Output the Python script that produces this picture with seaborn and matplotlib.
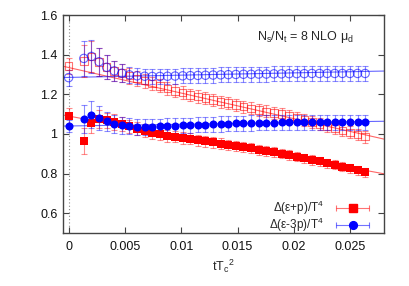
import numpy as np
import pandas as pd
import matplotlib
matplotlib.use("Agg")
import matplotlib.pyplot as plt
import seaborn as sns

# ---------------- data ----------------
t_step = 0.000675
k_idx = [0] + list(range(2, 40))
t_vals = [k * t_step for k in k_idx]

ep_filled = [1.092, 0.966, 1.055, 1.074, 1.068, 1.060, 1.050, 1.038, 1.026, 1.016,
             1.007, 0.998, 0.991, 0.986, 0.980, 0.975, 0.969, 0.963, 0.957, 0.951,
             0.945, 0.939, 0.933, 0.927, 0.921, 0.915, 0.908, 0.900, 0.893, 0.885,
             0.877, 0.869, 0.861, 0.852, 0.844, 0.835, 0.826, 0.817, 0.807]
ep_filled_err = [0.040, 0.065, 0.050, 0.045, 0.040, 0.038, 0.036, 0.034, 0.033, 0.032,
                 0.031, 0.030, 0.030, 0.029, 0.029, 0.028, 0.028, 0.027, 0.027, 0.027,
                 0.026, 0.026, 0.026, 0.025, 0.025, 0.025, 0.025, 0.024, 0.024, 0.024,
                 0.024, 0.024, 0.023, 0.023, 0.023, 0.023, 0.023, 0.023, 0.023]

e3p_filled = [1.040, 1.074, 1.096, 1.080, 1.063, 1.052, 1.044, 1.038, 1.036, 1.036,
              1.037, 1.038, 1.040, 1.041, 1.043, 1.044, 1.046, 1.047, 1.049, 1.050,
              1.052, 1.053, 1.054, 1.055, 1.056, 1.057, 1.057, 1.058, 1.058, 1.058,
              1.058, 1.059, 1.059, 1.059, 1.059, 1.058, 1.058, 1.058, 1.058]
e3p_filled_err = [0.030, 0.070, 0.068, 0.060, 0.050, 0.045, 0.042, 0.040, 0.040, 0.040,
                  0.039, 0.039, 0.039, 0.039, 0.039, 0.038, 0.038, 0.038, 0.038, 0.038,
                  0.038, 0.038, 0.038, 0.038, 0.038, 0.038, 0.038, 0.038, 0.038, 0.038,
                  0.038, 0.038, 0.038, 0.038, 0.038, 0.038, 0.038, 0.038, 0.038]

e3p_open = [1.284, 1.381, 1.391, 1.364, 1.336, 1.318, 1.306, 1.298, 1.293, 1.291,
            1.290, 1.290, 1.291, 1.292, 1.293, 1.294, 1.295, 1.296, 1.297, 1.298,
            1.299, 1.300, 1.301, 1.301, 1.302, 1.302, 1.303, 1.303, 1.304, 1.304,
            1.304, 1.305, 1.305, 1.305, 1.305, 1.305, 1.305, 1.305, 1.305]
e3p_open_err = [0.040, 0.090, 0.085, 0.070, 0.060, 0.050, 0.045, 0.042, 0.040, 0.039,
                0.038, 0.038, 0.038, 0.038, 0.038, 0.038, 0.038, 0.038, 0.038, 0.038,
                0.038, 0.038, 0.038, 0.038, 0.038, 0.038, 0.038, 0.038, 0.038, 0.038,
                0.038, 0.038, 0.038, 0.038, 0.038, 0.038, 0.038, 0.038, 0.038]

ep_open = [1.343, 1.368, 1.390, 1.364, 1.339, 1.318, 1.306, 1.294, 1.280, 1.269,
           1.255, 1.242, 1.230, 1.218, 1.208, 1.197, 1.189, 1.180, 1.171, 1.163,
           1.155, 1.146, 1.138, 1.129, 1.121, 1.114, 1.106, 1.099, 1.089, 1.081,
           1.070, 1.059, 1.048, 1.038, 1.028, 1.018, 1.008, 0.997, 0.986]
ep_open_err = [0.040, 0.080, 0.080, 0.070, 0.060, 0.050, 0.045, 0.040, 0.036, 0.035,
               0.034, 0.033, 0.033, 0.032, 0.032, 0.031, 0.031, 0.031, 0.030, 0.030,
               0.030, 0.030, 0.030, 0.030, 0.030, 0.030, 0.030, 0.030, 0.030, 0.030,
               0.030, 0.030, 0.030, 0.030, 0.030, 0.030, 0.030, 0.030, 0.030]

# linear fits: (intercept, slope)
fit_ep_filled = (1.090, -10.4)
fit_e3p_filled = (1.040, 0.85)
fit_e3p_open = (1.285, 1.15)
fit_ep_open = (1.335, -12.9)

x_ticks = [0, 0.005, 0.01, 0.015, 0.02, 0.025]
x_ticklabels = ["0", "0.005", "0.01", "0.015", "0.02", "0.025"]
y_ticks = [0.6, 0.8, 1.0, 1.2, 1.4, 1.6]
y_ticklabels = ["0.6", "0.8", "1", "1.2", "1.4", "1.6"]
xlim = (-0.0005, 0.028)
ylim = (0.5, 1.6)

label_ep = "Δ(ε+p)/T$^\\mathregular{4}$"
label_e3p = "Δ(ε-3p)/T$^\\mathregular{4}$"
title_txt = "N$_\\mathregular{s}$/N$_\\mathregular{t}$ = 8 NLO μ$_\\mathregular{d}$"
xlabel_txt = "tT$_\\mathregular{c}$$^\\mathregular{2}$"

# ---------------- style ----------------
sns.set_theme(style="ticks")
plt.rcParams["font.family"] = ["Liberation Sans", "DejaVu Sans"]
plt.rcParams["mathtext.fontset"] = "custom"
plt.rcParams["mathtext.rm"] = "Liberation Sans"

RED = "#ff0000"
BLUE = "#0000ff"
FS = 9

fig = plt.figure(figsize=(4.09, 2.86), dpi=100)
ax = fig.add_axes([63 / 409, 1 - 233 / 286, (384 - 63) / 409, (233 - 15) / 286])

df = pd.DataFrame({"t": t_vals,
                   "ep_f": ep_filled, "ep_f_err": ep_filled_err,
                   "e3p_f": e3p_filled, "e3p_f_err": e3p_filled_err,
                   "e3p_o": e3p_open, "e3p_o_err": e3p_open_err,
                   "ep_o": ep_open, "ep_o_err": ep_open_err})

ax.axvline(0, color="#888888", ls=(0, (1, 2)), lw=0.8, zorder=0)

# fit lines
xx = np.array(xlim)
for (b, m), col in [(fit_ep_open, RED), (fit_e3p_open, BLUE),
                    (fit_ep_filled, RED), (fit_e3p_filled, BLUE)]:
    sns.lineplot(x=xx, y=b + m * xx, color=col, lw=0.8, alpha=0.6, ax=ax, zorder=1)

# open series
for col, key in [(RED, "ep_o"), (BLUE, "e3p_o")]:
    ax.errorbar(df["t"], df[key], yerr=df[key + "_err"], fmt="none",
                ecolor=col, alpha=0.45, elinewidth=0.8, capsize=2, capthick=0.8, zorder=2)
sns.scatterplot(x=df["t"], y=df["ep_o"], marker="s", s=30, facecolors="none",
                edgecolors=RED, linewidth=0.8, alpha=0.55, ax=ax, zorder=3)
sns.scatterplot(x=df["t"], y=df["e3p_o"], marker="o", s=36, facecolors="none",
                edgecolors=BLUE, linewidth=0.8, alpha=0.6, ax=ax, zorder=3)

# filled series
for col, key in [(RED, "ep_f"), (BLUE, "e3p_f")]:
    ax.errorbar(df["t"], df[key], yerr=df[key + "_err"], fmt="none",
                ecolor=col, alpha=0.45, elinewidth=0.8, capsize=2, capthick=0.8, zorder=4)
sns.scatterplot(x=df["t"], y=df["ep_f"], marker="s", s=28, color=RED,
                edgecolor=RED, linewidth=0, ax=ax, zorder=5)
sns.scatterplot(x=df["t"], y=df["e3p_f"], marker="o", s=34, color=BLUE,
                edgecolor=BLUE, linewidth=0, ax=ax, zorder=6)

ax.set_xlim(*xlim)
ax.set_ylim(*ylim)
ax.set_xticks(x_ticks)
ax.set_xticklabels(x_ticklabels)
ax.set_yticks(y_ticks)
ax.set_yticklabels(y_ticklabels)
ax.tick_params(direction="in", top=True, right=True, length=4, width=0.8,
               labelsize=FS, color="#444444", labelcolor="#111111")
ax.tick_params(axis="x", pad=6)
ax.tick_params(axis="y", pad=4)
for s in ax.spines.values():
    s.set_color("#444444")
    s.set_linewidth(1.0)

ax.set_xlabel(xlabel_txt, fontsize=FS, labelpad=3)
ax.set_ylabel("")

ax.text(0.905, 0.9, title_txt, transform=ax.transAxes, ha="right", va="center",
        fontsize=FS)

# gnuplot-style key (text first, then sample with error bar)
key_rows = [(label_ep, RED, "s", 5.2, 0.114), (label_e3p, BLUE, "o", 5.6, 0.038)]
for lab, col, mk, ms, yy in key_rows:
    ax.text(0.813, yy, lab, transform=ax.transAxes, ha="right", va="center",
            fontsize=8.5)
    ax.errorbar([0.902], [yy], xerr=[0.052], fmt="none", ecolor=col, alpha=0.55,
                elinewidth=0.8, capsize=2, capthick=0.8, transform=ax.transAxes,
                clip_on=False, zorder=7)
    ax.plot([0.902], [yy], marker=mk, ms=ms, color=col, ls="none",
            transform=ax.transAxes, clip_on=False, zorder=8)

fig.savefig("out.png", dpi=100)
